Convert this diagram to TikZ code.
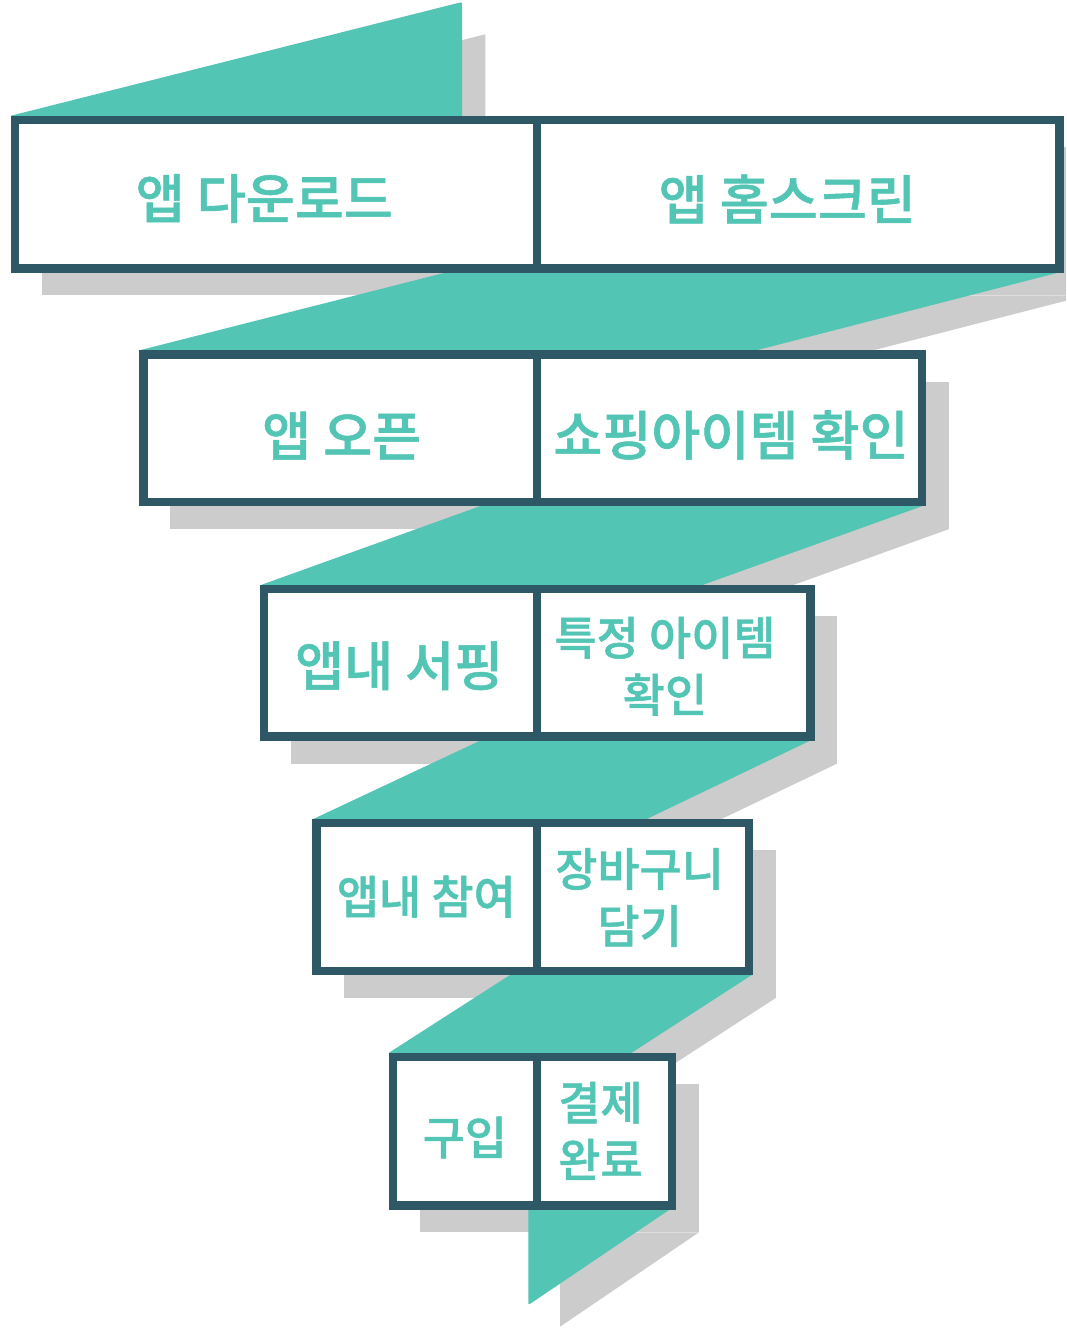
\documentclass[tikz,border=0pt]{standalone}
\usepackage{fontspec}
\IfFontExistsTF{Noto Sans CJK KR Medium}
  {\newfontfamily\kr{Noto Sans CJK KR Medium}[FakeBold=1]\newcommand\krweight{}}
  {\newfontfamily\kr{Noto Sans CJK KR}\newcommand\krweight{\bfseries}}
\definecolor{ribboncol}{HTML}{52C5B4}
\definecolor{bordercol}{HTML}{2E5865}
\definecolor{shadowcol}{HTML}{CCCCCC}
\begin{document}
\begin{tikzpicture}[x=1pt,y=-1pt,
  shadowpart/.style={fill=shadowcol},
  ribbonpart/.style={fill=ribboncol},
  cell/.style={draw=bordercol, line width=8.4pt, fill=white, line join=miter, inner sep=0pt, outer sep=0pt},
  lbl/.style={text=ribboncol, font=\kr\krweight\fontsize{53.3}{64}\selectfont, inner sep=0pt, align=center},
  lbls/.style={text=ribboncol, font=\kr\krweight\fontsize{45.8}{57}\selectfont, inner sep=0pt, align=center}]
\useasboundingbox (0,0) rectangle (1066,1329);
\clip (0,0) rectangle (1066,1329);

% ---------- shadows ----------
\fill[shadowpart] (38.5,146.9) -- (485.3,34.3) -- (485.3,146.9) -- cycle;
\fill[shadowpart] (42.2,146.9) rectangle (1086.3,295.5);
\fill[shadowpart] (508.7,295.5) -- (1086.3,295.5) -- (752.1,381.5) -- (170.3,381.5) -- cycle;
\fill[shadowpart] (170.3,381.5) rectangle (948.7,529.2);
\fill[shadowpart] (532.2,529.2) -- (948.7,529.2) -- (707.5,615.9) -- (291,615.9) -- cycle;
\fill[shadowpart] (291,615.9) rectangle (837.3,763.5);
\fill[shadowpart] (527.7,763.5) -- (837.3,763.5) -- (656.9,850) -- (343.5,850) -- cycle;
\fill[shadowpart] (343.5,850) rectangle (775.7,998);
\fill[shadowpart] (553.8,998) -- (775.7,998) -- (643.2,1083.8) -- (420.2,1083.8) -- cycle;
\fill[shadowpart] (420.2,1083.8) rectangle (699,1232.3);
\fill[shadowpart] (560,1232.3) -- (560,1326.7) -- (699,1232.3) -- cycle;

% ---------- ribbon ----------
\fill[ribbonpart] (11,118) -- (11,115.7) -- (458.1,2.98) .. controls (462,2) .. (462,6) -- (462,118) -- cycle;
\fill[ribbonpart] (445,272.7) -- (445,270) -- (1058,270) -- (1058,272.7) -- (756.7,350.2) -- (756.7,353) -- (140,353) -- (140,350.2) -- cycle;
\fill[ribbonpart] (480,506.2) -- (480,504) -- (922,504) -- (922,506.2) -- (703.3,584.7) -- (703.3,587) -- (261.7,587) -- (261.7,584.7) -- cycle;
\fill[ribbonpart] (480,740.7) -- (480,738.5) -- (810,738.5) -- (810,740.7) -- (646.7,819) -- (646.7,821) -- (313.3,821) -- (313.3,819) -- cycle;
\fill[ribbonpart] (510,975) -- (510,973) -- (751.7,973) -- (751.7,975) -- (631.7,1052.7) -- (631.7,1055) -- (389,1055) -- (389,1052.7) -- cycle;
\fill[ribbonpart] (528.3,1207) -- (528.3,1301) .. controls (528.3,1305) .. (531.6,1302.8) -- (670,1209.3) -- (670,1207) -- cycle;

% ---------- boxes ----------
\node[cell, minimum width=522pt, minimum height=148.6pt] (b1l) at (276.2,194.2) {};
\node[cell, minimum width=522.1pt, minimum height=148.6pt] (b1r) at (798.25,194.2) {};
\node[cell, minimum width=393.9pt, minimum height=147.7pt] (b2l) at (340.25,428.35) {};
\node[cell, minimum width=384.5pt, minimum height=147.7pt] (b2r) at (729.45,428.35) {};
\node[cell, minimum width=273.2pt, minimum height=147.6pt] (b3l) at (400.6,662.7) {};
\node[cell, minimum width=273.1pt, minimum height=147.6pt] (b3r) at (673.75,662.7) {};
\node[cell, minimum width=220.7pt, minimum height=148pt] (b4l) at (426.85,897) {};
\node[cell, minimum width=211.5pt, minimum height=148pt] (b4r) at (642.95,897) {};
\node[cell, minimum width=144pt, minimum height=148.5pt] (b5l) at (465.2,1131.05) {};
\node[cell, minimum width=134.8pt, minimum height=148.5pt] (b5r) at (604.6,1131.05) {};

% ---------- labels ----------
\node[lbl] (t1a) at (264.3,198.5) {앱 다운로드};
\node[lbl] (t1b) at (787.3,199) {앱 홈스크린};
\node[lbl] (t2a) at (341.7,435.6) {앱 오픈};
\node[lbl] (t2b) at (731,435.1) {쇼핑아이템 확인};
\node[lbl] (t3a) at (399.2,665.8) {앱내 서핑};
\node[lbls] (t3b) at (665,666.3) {특정 아이템\\확인};
\node[lbls] (t4a) at (426.3,896.7) {앱내 참여};
\node[lbls] (t4b) at (639.6,897.5) {장바구니\\담기};
\node[lbls] (t5a) at (464.8,1137.5) {구입};
\node[lbls] (t5b) at (600.5,1130.8) {결제\\완료};
\end{tikzpicture}
\end{document}
